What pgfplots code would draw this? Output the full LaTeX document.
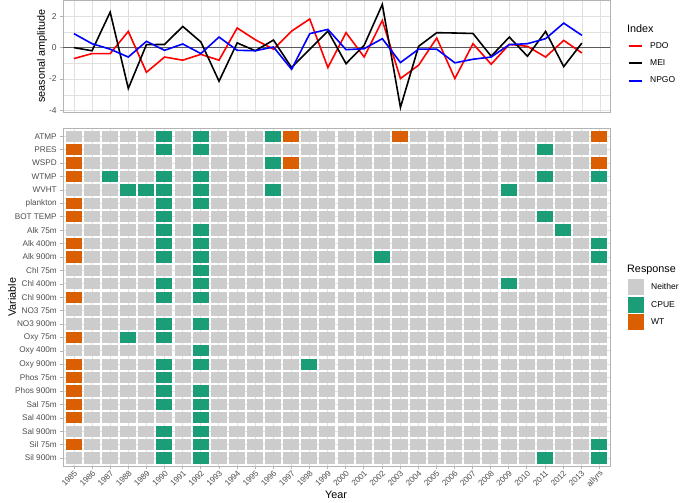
\documentclass[border=0pt]{standalone}
\usepackage{pgfplots}
\pgfplotsset{compat=1.18}
\usepackage{pgfplotstable}
\usepackage{fontspec}
\setmainfont{Liberation Sans}
\definecolor{cN}{HTML}{CCCCCC}
\definecolor{cC}{HTML}{1B9E77}
\definecolor{cW}{HTML}{D95F02}
\definecolor{gborder}{HTML}{B3B3B3}
\definecolor{ggrid}{HTML}{E0E0E0}
\definecolor{gtext}{HTML}{4D4D4D}
\pgfdeclareplotmark{tile}{\pgfpathrectangle{\pgfpoint{-8pt}{-5.65pt}}{\pgfpoint{16pt}{11.3pt}}\pgfusepathqfill}

\pgfplotstableread{
year PDO MEI NPGO
1985 -0.70 0.00 0.89
1986 -0.38 -0.20 0.25
1987 -0.38 2.26 -0.10
1988 1.03 -2.60 -0.60
1989 -1.57 0.19 0.40
1990 -0.60 0.20 -0.17
1991 -0.80 1.35 0.23
1992 -0.43 0.36 -0.38
1993 -0.80 -2.14 0.67
1994 1.25 0.30 -0.17
1995 0.50 -0.20 -0.20
1996 -0.10 0.48 0.04
1997 1.05 -1.27 -1.38
1998 1.82 -0.10 0.89
1999 -1.27 1.05 1.16
2000 0.95 -1.02 -0.13
2001 -0.60 0.15 -0.07
2002 1.73 2.75 0.57
2003 -1.97 -3.81 -0.95
2004 -1.12 0.08 -0.10
2005 0.61 0.95 -0.10
2006 -1.97 0.93 -0.97
2007 0.25 0.90 -0.74
2008 -1.06 -0.55 -0.60
2009 0.21 0.67 0.19
2010 0.08 -0.55 0.25
2011 -0.60 1.03 0.57
2012 0.46 -1.21 1.56
2013 -0.34 0.29 0.78
}\indices

\pgfplotstableread{
r c0 c1 c2 c3 c4 c5 c6 c7 c8 c9 c10 c11 c12 c13 c14 c15 c16 c17 c18 c19 c20 c21 c22 c23 c24 c25 c26 c27 c28 c29
1  N N N N N C N C N N N C W N N N N N W N N N N N N N N N N W
2  W N N N N C N C N N N N N N N N N N N N N N N N N N C N N N
3  W N N N N N N N N N N C W N N N N N N N N N N N N N N N N W
4  W N C N N C N C N N N N N N N N N N N N N N N N N N C N N C
5  N N N C C C N C N N N C N N N N N N N N N N N N C N N N N N
6  W N N N N C N C N N N N N N N N N N N N N N N N N N N N N N
7  W N N N N C N N N N N N N N N N N N N N N N N N N N C N N N
8  N N N N N C N C N N N N N N N N N N N N N N N N N N N C N N
9  W N N N N C N C N N N N N N N N N N N N N N N N N N N N N C
10 W N N N N C N C N N N N N N N N N C N N N N N N N N N N N C
11 N N N N N N N C N N N N N N N N N N N N N N N N N N N N N N
12 N N N N N C N C N N N N N N N N N N N N N N N N C N N N N N
13 W N N N N C N C N N N N N N N N N N N N N N N N N N N N N N
14 N N N N N N N N N N N N N N N N N N N N N N N N N N N N N N
15 N N N N N C N C N N N N N N N N N N N N N N N N N N N N N N
16 W N N C N C N N N N N N N N N N N N N N N N N N N N N N N N
17 N N N N N N N C N N N N N N N N N N N N N N N N N N N N N N
18 W N N N N C N C N N N N N C N N N N N N N N N N N N N N N N
19 W N N N N C N N N N N N N N N N N N N N N N N N N N N N N N
20 W N N N N C N C N N N N N N N N N N N N N N N N N N N N N N
21 W N N N N C N C N N N N N N N N N N N N N N N N N N N N N N
22 W N N N N N N C N N N N N N N N N N N N N N N N N N N N N N
23 N N N N N C N C N N N N N N N N N N N N N N N N N N N N N N
24 W N N N N C N C N N N N N N N N N N N N N N N N N N N N N C
25 N N N N N C N C N N N N N N N N N N N N N N N N N N C N N C
}\tiles

\begin{document}
\begin{tikzpicture}
\useasboundingbox (0pt,0pt) rectangle (685pt,503pt);
\begin{axis}[
  at={(63pt,391pt)}, anchor=south west,
  scale only axis, width=547pt, height=111.5pt,
  xmin=1984.4, xmax=2014.55, ymin=-4.1, ymax=3.0,
  xtick={1985,...,2014}, xticklabels={},
  ytick={-4,-2,0,2}, minor ytick={-3,-1,1,3},
  ytick pos=left,
  grid=both,
  major grid style={ggrid, line width=0.55pt},
  minor grid style={ggrid, line width=0.3pt},
  axis line style={gborder, line width=0.8pt},
  tick align=outside, major tick length=2.75pt, minor tick length=0pt,
  x tick style={draw=none},
  y tick style={gborder, line width=0.5pt},
  ticklabel style={font=\fontsize{8.5}{10}\selectfont, text=gtext},
  /pgf/number format/assume math mode=true,
  ylabel={seasonal amplitude},
  ylabel style={font=\fontsize{10.8}{12}\selectfont, at={(axis description cs:-0.0384,0.5)}, anchor=center},
  legend style={draw=none, fill=none, at={(axis description cs:1.0347,0.825)}, anchor=north west,
    row sep=0pt, column sep=8pt, inner sep=0pt,
    nodes={inner sep=0pt, minimum height=17.3pt, font=\fontsize{8.5}{10}\selectfont},
    row 1/.style={nodes={minimum height=20pt}}},
  legend cell align=left,
  legend image code/.code={\fill[#1] (0pt,-1pt) rectangle (13pt,1pt);},
]
\addlegendimage{empty legend}
\addlegendentry{\hspace*{-23pt}\fontsize{10.8}{12}\selectfont Index}
\addlegendimage{fill=red, draw=none}
\addlegendentry{PDO}
\addlegendimage{fill=black, draw=none}
\addlegendentry{MEI}
\addlegendimage{fill=blue, draw=none}
\addlegendentry{NPGO}
\addplot[forget plot, black!65, line width=0.6pt] coordinates {(1984.4,0) (2014.55,0)};
\addplot[forget plot, red, line width=1.6pt] table[x=year, y=PDO]{\indices};
\addplot[forget plot, black, line width=1.6pt] table[x=year, y=MEI]{\indices};
\addplot[forget plot, blue, line width=1.6pt] table[x=year, y=NPGO]{\indices};
\end{axis}

\begin{axis}[
  at={(63pt,37pt)}, anchor=south west,
  scale only axis, width=547pt, height=337.7pt,
  xmin=-0.6, xmax=29.6, ymin=0.4, ymax=25.6, y dir=reverse,
  xtick={0,...,29},
  xticklabels={1985,1986,1987,1988,1989,1990,1991,1992,1993,1994,1995,1996,1997,1998,1999,2000,2001,2002,2003,2004,2005,2006,2007,2008,2009,2010,2011,2012,2013,allyrs},
  ytick={1,...,25},
  yticklabels={ATMP,PRES,WSPD,WTMP,WVHT,plankton,BOT TEMP,Alk 75m,Alk 400m,Alk 900m,Chl 75m,Chl 400m,Chl 900m,NO3 75m,NO3 900m,Oxy 75m,Oxy 400m,Oxy 900m,Phos 75m,Phos 900m,Sal 75m,Sal 400m,Sal 900m,Sil 75m,Sil 900m},
  xtick pos=bottom, ytick pos=left,
  grid=major,
  major grid style={ggrid, line width=0.55pt},
  axis line style={gborder, line width=0.8pt},
  tick align=outside, major tick length=2.75pt,
  tick style={gborder, line width=0.5pt},
  ticklabel style={font=\fontsize{8.2}{10}\selectfont, text=gtext},
  xticklabel style={rotate=45, anchor=north east, inner sep=0.5pt},
  xlabel={Year}, ylabel={Variable},
  xlabel style={font=\fontsize{10.8}{12}\selectfont, at={(axis description cs:0.499,-0.0859)}, anchor=center},
  ylabel style={font=\fontsize{10.8}{12}\selectfont, at={(axis description cs:-0.0932,0.5)}, anchor=center},
  legend style={draw=none, fill=none, at={(axis description cs:1.0329,0.607)}, anchor=north west,
    row sep=0pt, column sep=7pt, inner sep=0pt,
    nodes={inner sep=0pt, minimum height=17.5pt, font=\fontsize{8.5}{10}\selectfont},
    row 1/.style={nodes={minimum height=20pt}}},
  legend cell align=left,
  legend image code/.code={\fill[#1] (0pt,-8pt) rectangle (16pt,8pt);},
]
\addlegendimage{empty legend}
\addlegendentry{\hspace*{-24pt}\fontsize{10.8}{12}\selectfont Response}
\addlegendimage{fill=cN, draw=none}
\addlegendentry{Neither}
\addlegendimage{fill=cC, draw=none}
\addlegendentry{CPUE}
\addlegendimage{fill=cW, draw=none}
\addlegendentry{WT}
\pgfplotsinvokeforeach{0,...,29}{
  \addplot[forget plot, scatter, only marks, mark=tile, point meta=explicit symbolic,
    scatter/classes={N={fill=cN}, C={fill=cC}, W={fill=cW}}]
    table[x expr=#1, y=r, meta=c#1]{\tiles};
}
\end{axis}
\end{tikzpicture}
\end{document}
